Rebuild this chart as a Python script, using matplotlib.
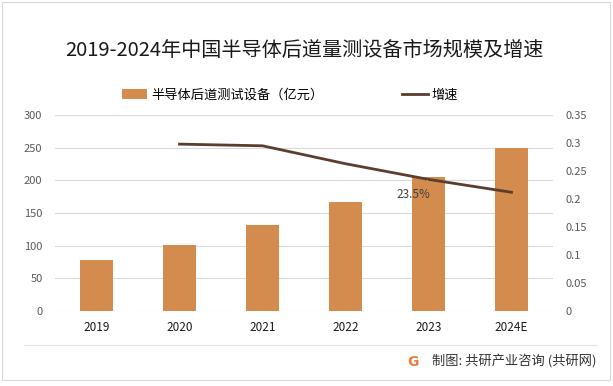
import numpy as np
from matplotlib import pyplot as plt
from matplotlib.patches import Rectangle
from matplotlib.lines import Line2D

plt.rcParams['font.family'] = ['Noto Sans CJK SC', 'DejaVu Sans']

years = ['2019', '2020', '2021', '2022', '2023', '2024E']
market = [78, 101, 132, 167, 205, 250]          # 亿元
growth = [np.nan, 0.298, 0.295, 0.263, 0.235, 0.212]

bar_color = '#D38C4E'
line_color = '#5C3D2E'

fig = plt.figure(figsize=(6.13, 3.86), dpi=100)
ax = fig.add_axes([55/613, 75/386, 498/613, 196/386])
ax2 = ax.twinx()

x = np.arange(len(years))
b = ax.bar(x, market, width=0.4, color=bar_color, zorder=2, label='半导体后道测试设备（亿元）')
l, = ax2.plot(x, growth, color=line_color, lw=2.0, zorder=3, label='增速')

ax.set_xlim(-0.5, len(years) - 0.5)
ax.set_ylim(0, 300)
ax.set_yticks(np.arange(0, 301, 50))
ax2.set_ylim(0, 0.35)
ax2.set_yticks(np.arange(0, 0.351, 0.05))
ax2.set_yticklabels(['0', '0.05', '0.1', '0.15', '0.2', '0.25', '0.3', '0.35'])
ax.set_xticks(x)
ax.set_xticklabels(years)

ax.grid(axis='y', color='#D9D9D9', lw=0.8, zorder=0)
ax.set_axisbelow(True)
for a in (ax, ax2):
    for s in a.spines.values():
        s.set_visible(False)
    a.tick_params(length=0)
ax.tick_params(axis='y', labelsize=8, labelcolor='#595959', pad=9)
ax2.tick_params(axis='y', labelsize=8, labelcolor='#595959', pad=9)
ax.tick_params(axis='x', labelsize=8.5, labelcolor='#1A1A1A', pad=7)

# data label for 2023
ax2.annotate('23.5%', xy=(4, growth[4]), xytext=(-15, -15.5), textcoords='offset pixels',
             ha='center', va='center', fontsize=8.5, color='#404040',
             arrowprops=dict(arrowstyle='-', color='#A6A6A6', lw=0.8, shrinkA=5, shrinkB=1))

fig.text(0.497, 1 - 50/386, '2019-2024年中国半导体后道量测设备市场规模及增速',
         ha='center', va='center', fontsize=14.5, color='#1A1A1A')

fig.legend(handles=[b, l], loc='center', bbox_to_anchor=(290/613, 1 - 95/386),
           ncol=2, frameon=False, fontsize=9.5, columnspacing=6.0,
           handlelength=1.9, handletextpad=0.3)

# footer
fig.add_artist(Line2D([24/613, 597/613], [1 - 345/386, 1 - 345/386], color='#E3E3E3', lw=0.8))
fig.text(597/613, 1 - 362/386, '制图: 共研产业咨询 (共研网)', ha='right', va='center',
         fontsize=9.5, color='#333333')
fig.text(413/613, 1 - 362/386, 'G', ha='center', va='center', fontsize=10,
         fontweight='bold', color='#F07A3A', family='DejaVu Sans')
fig.add_artist(Rectangle((2/613, 1 - 380/386), 608/613, 378/386, fill=False,
                         edgecolor='#D9D9D9', lw=0.8))

fig.savefig('out.png', dpi=100)
